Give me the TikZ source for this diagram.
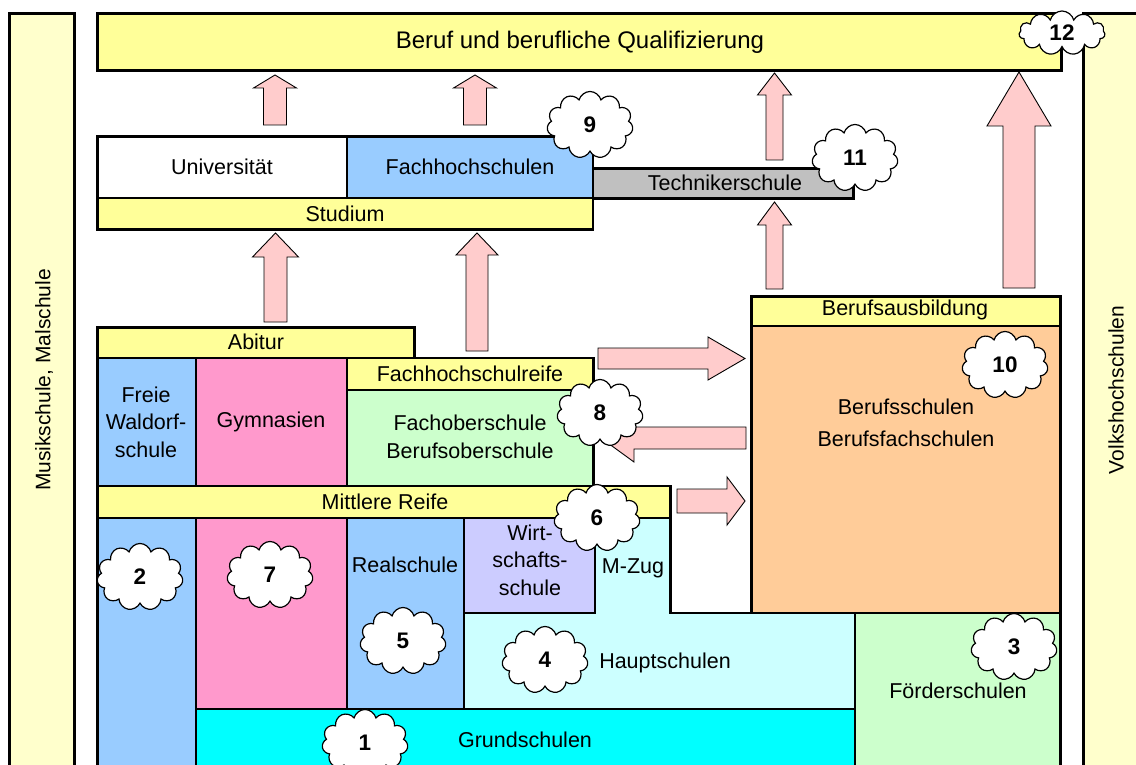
\documentclass[tikz,border=0pt]{standalone}
\usepackage{fontspec}
\setmainfont{Liberation Sans}
\usetikzlibrary{calc,shapes.symbols}

\definecolor{gelb}{HTML}{FFFF99}
\definecolor{hellgelb}{HTML}{FFFFCC}
\definecolor{hblau}{HTML}{99CCFF}
\definecolor{pink}{HTML}{FF99CC}
\definecolor{hgruen}{HTML}{CCFFCC}
\definecolor{lila}{HTML}{CCCCFF}
\definecolor{tuerkis}{HTML}{CCFFFF}
\definecolor{zyan}{HTML}{00FFFF}
\definecolor{apricot}{HTML}{FFCC99}
\definecolor{grau}{HTML}{C0C0C0}
\definecolor{rosa}{HTML}{FFCCCC}

\newcommand{\fs}{\fontsize{21.5}{27.5}\selectfont}

% Blockpfeil: Start, Spitze, halbe Schaftbreite, halbe Kopfbreite, Kopflaenge
\newcommand{\pfeil}[5]{%
  \coordinate (kb) at ($(#2)!#5!(#1)$);
  \draw[pfeilstil] ($(#1)!#3!-90:(#2)$) -- ($(kb)!#3!-90:(#2)$) -- ($(kb)!#4!-90:(#2)$)
    -- (#2) -- ($(kb)!#4!90:(#2)$) -- ($(kb)!#3!90:(#2)$) -- ($(#1)!#3!90:(#2)$) -- cycle;
}

\tikzset{
  feld/.style={draw=black, line width=2.6pt},
  txt/.style={font=\fs, align=center, inner sep=0pt},
  wolke/.style={cloud, cloud puffs=11, aspect=1.3, draw, fill=white, line width=1.2pt,
    minimum width=86pt, minimum height=67pt, inner sep=0pt,
    font=\fontsize{22.5}{26}\selectfont\bfseries},
  pfeilstil/.style={fill=rosa, draw=black, line width=0.9pt, line join=miter},
}

\begin{document}
\begin{tikzpicture}[x=1pt, y=-1pt]
\clip (0,0) rectangle (1136,765);
\fill[white] (0,0) rectangle (1136,765);

% Seitenbalken
\draw[feld, fill=hellgelb] (9.5,13.5) rectangle (74.5,790);
\node[txt, rotate=90, font=\fontsize{21}{26}\selectfont] (musik) at (44,380) {Musikschule, Malschule};
\draw[feld, fill=hellgelb] (1083.5,13.5) rectangle (1160,790);
\node[txt, rotate=90, font=\fontsize{21}{26}\selectfont] (vhs) at (1116,390) {Volkshochschulen};

% Beruf
\draw[feld, fill=gelb] (97.5,13.5) rectangle (1061.5,70.5);
\node[txt, font=\fontsize{24}{28}\selectfont] (beruf) at (580,42) {Beruf und berufliche Qualifizierung};

% Hochschulen
\draw[feld, fill=white] (97.5,136.5) rectangle (347,198);
\node[txt] (uni) at (222,167) {Universität};
\draw[feld, fill=hblau] (347,136.5) rectangle (593,198);
\node[txt] (fh) at (470,167) {Fachhochschulen};
\draw[feld, fill=gelb] (97.5,198) rectangle (593,229.5);
\node[txt] (studium) at (345,214) {Studium};
\draw[feld, fill=grau] (593,168.5) rectangle (853.5,198.5);
\node[txt] (techniker) at (725,183) {Technikerschule};

% Sekundarstufe II
\draw[feld, fill=gelb] (97.5,327.5) rectangle (414.5,358);
\node[txt] (abitur) at (256,342) {Abitur};
\draw[feld, fill=hblau] (97.5,358) rectangle (196,486);
\node[txt] (waldorf) at (146,422) {Freie\\Waldorf-\\schule};
\draw[feld, fill=pink] (196,358) rectangle (347,486);
\node[txt] (gym) at (271,422) {Gymnasien};
\draw[feld, fill=gelb] (347,358) rectangle (593.5,390);
\node[txt] (fhr) at (470,374) {Fachhochschulreife};
\draw[feld, fill=hgruen] (347,390) rectangle (593.5,486);
\node[txt] (fos) at (470,437) {Fachoberschule\\Berufsoberschule};
\draw[feld, fill=gelb] (97.5,486) rectangle (670.5,518);
\node[txt] (mreife) at (385,502) {Mittlere Reife};

% Berufsausbildung
\draw[feld, fill=gelb] (751.5,296.5) rectangle (1060.5,326);
\node[txt] (ausb) at (905,310) {Berufsausbildung};
\draw[feld, fill=apricot] (751.5,326) rectangle (1060.5,613);
\node[txt, font=\fontsize{21.5}{32}\selectfont] (bs) at (906,423) {Berufsschulen\\Berufsfachschulen};

% Sekundarstufe I und Grundschule
\draw[feld, fill=hblau] (97.5,518) rectangle (196,790);
\draw[feld, fill=pink] (196,518) rectangle (347,709);
\draw[feld, fill=hblau] (347,518) rectangle (464,709);
\node[txt] (realschule) at (405,565) {Realschule};
\draw[feld, fill=tuerkis] (464,613) -- (595,613) -- (595,518) -- (670.5,518) -- (670.5,613)
  -- (855,613) -- (855,709) -- (464,709) -- cycle;
\node[txt] (mzug) at (633,568) {M-Zug};
\node[txt] (haupt) at (665,663) {Hauptschulen};
\draw[feld, fill=lila] (464,518) rectangle (595,613);
\node[txt] (wirt) at (530,560) {Wirt-\\schafts-\\schule};
\draw[feld, fill=zyan] (196,709) rectangle (855,790);
\node[txt] (grund) at (525,740) {Grundschulen};
\draw[feld, fill=hgruen] (855,613) rectangle (1060.5,790);
\node[txt] (foerder) at (958,691) {Förderschulen};

% Pfeile
\pfeil{275,125}{275,75}{11.5pt}{21.5pt}{13pt}
\pfeil{475,125}{475,75}{11.5pt}{21.5pt}{13pt}
\pfeil{774.5,160}{774.5,73}{8.5pt}{17pt}{22pt}
\pfeil{774.5,289}{774.5,202}{8.5pt}{17pt}{23pt}
\pfeil{1019,288}{1019,72}{16pt}{32pt}{54pt}
\pfeil{275.5,322}{275.5,233}{11.5pt}{23pt}{24pt}
\pfeil{477,351}{477,233}{11pt}{21pt}{22pt}
\pfeil{598,358.5}{745,358.5}{10.5pt}{21.5pt}{37pt}
\pfeil{746,438}{601,438}{11pt}{24pt}{33pt}
\pfeil{677,501}{745,501}{12pt}{24pt}{18pt}

% Wolken
\node[wolke] (w1) at (365,743) {1};
\node[wolke] (w2) at (140,577) {2};
\node[wolke] (w3) at (1014,647) {3};
\node[wolke] (w4) at (545,660) {4};
\node[wolke] (w5) at (403,641) {5};
\node[wolke] (w6) at (597,518) {6};
\node[wolke] (w7) at (270,575) {7};
\node[wolke] (w8) at (600,413) {8};
\node[wolke] (w9) at (590,125) {9};
\node[wolke] (w10) at (1005,365) {10};
\node[wolke] (w11) at (855,158) {11};
\node[wolke, minimum height=44pt] (w12) at (1062,33) {12};
\end{tikzpicture}
\end{document}
